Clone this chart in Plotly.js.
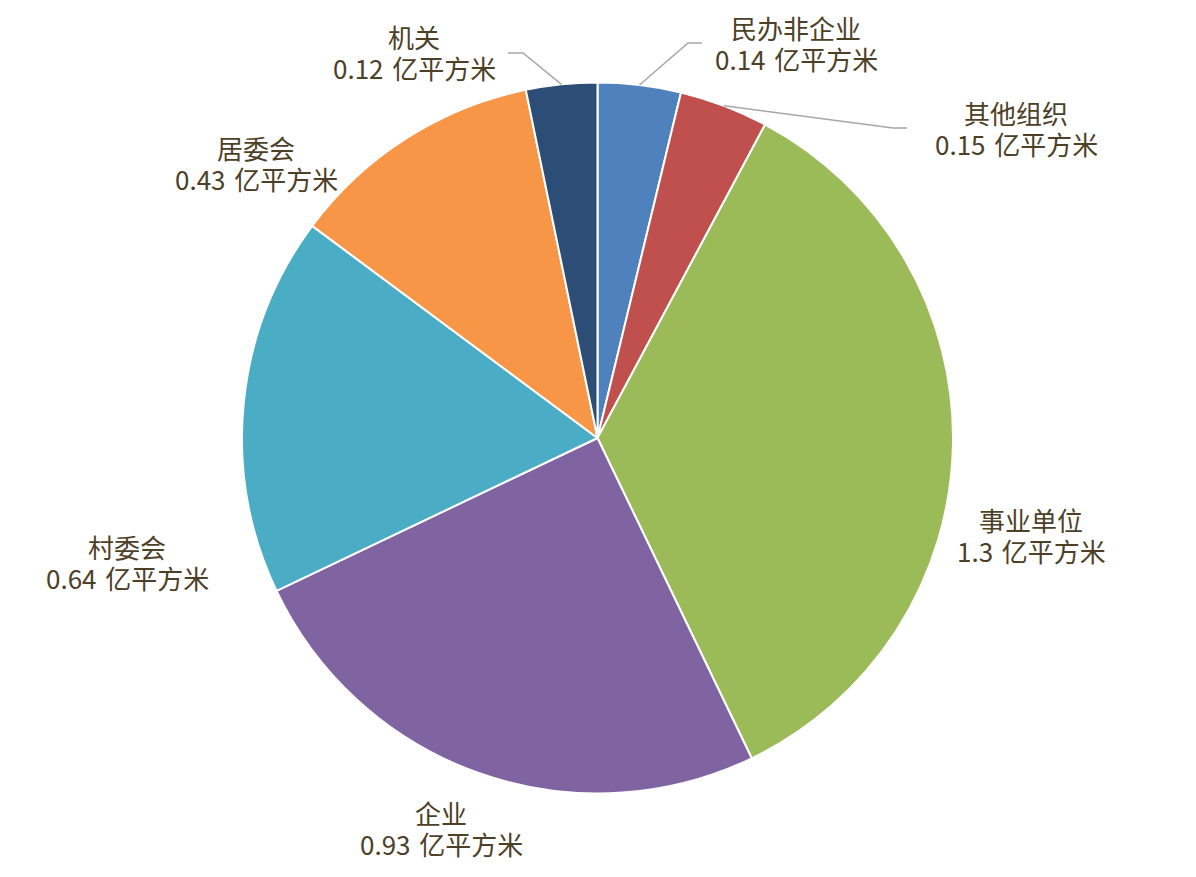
<!DOCTYPE html>
<html>
<head>
<meta charset="utf-8">
<script src="https://cdn.plot.ly/plotly-3.0.1.min.js"></script>
<style>
  html,body{margin:0;padding:0;background:#fff;}
  #chart{width:1196px;height:877px;}
</style>
</head>
<body>
<div id="chart"></div>
<script>
// 数据：按顺时针顺序（从12点方向开始）
const LABELS = ["民办非企业","其他组织","事业单位","企业","村委会","居委会","机关"];
const VALUES = [0.14, 0.15, 1.3, 0.93, 0.64, 0.43, 0.12];
const UNIT = "亿平方米";
const COLORS = ["#4f81bd","#c0504d","#9bbb59","#8064a2","#4bacc6","#f79646","#2c4d75"];

// 版面（像素）
const W = 1196, H = 877;
const CX = 597.5, CY = 438, R = 355.5;
const LINE_GAP = 30.5;
// 标签中心
const LABEL_XY = [[796,43],[1016,128],[1031,535],[441,828],[127,562],[256,163],[414,52]];
// 引导线：折点和末端（没有的为 null）
const LEADERS = [
  [[688,43],[702,43]],
  [[893,128],[907,128]],
  null, null, null, null,
  [[523,53],[508,53]]
];

const TEXT_COLOR = '#4d4027';
const FONT = '"Microsoft YaHei", "Noto Sans CJK SC", sans-serif';

const px = x => x / W;
const py = y => 1 - y / H;

const total = VALUES.reduce((a,b)=>a+b,0);

// 每个标签两行：名称 + 数值
const annotations = [];
LABELS.forEach((l,i)=>{
  const [lx,ly] = LABEL_XY[i];
  [[l, ly-LINE_GAP/2], [VALUES[i] + '\u2004' + UNIT, ly+LINE_GAP/2]].forEach(([t,y])=>{
    annotations.push({
      x:px(lx), y:py(y), xref:'paper', yref:'paper',
      xanchor:'center', yanchor:'middle', showarrow:false, borderpad:0,
      text:t, font:{size:26,color:TEXT_COLOR,family:FONT}
    });
  });
});

// 引导线从扇区中点的外沿开始
const shapes = [];
let cum = 0;
VALUES.forEach((v,i)=>{
  const mid = (cum + v/2) / total * 2 * Math.PI;
  cum += v;
  if(!LEADERS[i]) return;
  const ax = CX + R*Math.sin(mid), ay = CY - R*Math.cos(mid);
  const pts = [[ax,ay]].concat(LEADERS[i]);
  const path = pts.map((p,k)=>(k?'L':'M') + px(p[0]).toFixed(4) + ',' + py(p[1]).toFixed(4)).join(' ');
  shapes.push({type:'path', xref:'paper', yref:'paper', path, line:{color:'#a6a6a6',width:1.5}});
});

const trace = {
  type:'pie', labels:LABELS, values:VALUES, sort:false, direction:'clockwise', rotation:0,
  marker:{colors:COLORS, line:{color:'#ffffff',width:2}},
  textinfo:'none', hoverinfo:'label+value',
  domain:{x:[px(CX-R), px(CX+R)], y:[py(CY+R), py(CY-R)]}
};

Plotly.newPlot('chart',[trace],{
  width:W, height:H, margin:{l:0,r:0,t:0,b:0},
  paper_bgcolor:'#ffffff', plot_bgcolor:'#ffffff',
  showlegend:false, annotations, shapes
},{displayModeBar:false});
</script>
</body>
</html>
